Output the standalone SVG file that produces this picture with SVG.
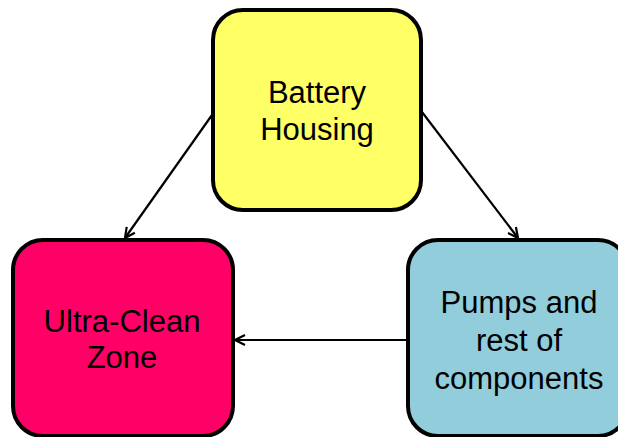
<svg xmlns="http://www.w3.org/2000/svg" width="618" height="437" viewBox="0 0 618 437">
<style>
.box{stroke:#000;stroke-width:4}
.t{font-family:"Liberation Sans",Arial,sans-serif;font-size:31px;fill:#000;text-anchor:middle}
.c{stroke:#000;stroke-width:2.2;fill:none;marker-end:url(#ah)}
</style>
<defs>
<marker id="ah" viewBox="0 0 12 12" refX="11" refY="6" markerWidth="12" markerHeight="12" markerUnits="userSpaceOnUse" orient="auto">
<path d="M1,1 L11,6 L1,11" fill="none" stroke="#000" stroke-width="2.2"/>
</marker>
</defs>
<rect width="618" height="437" fill="#fff"/>
<g id="connectors">
<line class="c" x1="212" y1="115" x2="125" y2="238"/>
<line class="c" x1="422" y1="112" x2="518" y2="238"/>
<line class="c" x1="407" y1="340" x2="235" y2="340"/>
</g>
<g id="battery">
<rect class="box" x="213" y="10" width="208" height="200" rx="30" fill="#FFFF66"/>
<text class="t" x="317" y="103">Battery</text>
<text class="t" x="317" y="140">Housing</text>
</g>
<g id="ultraclean">
<rect class="box" x="13" y="240" width="220" height="196" rx="30" fill="#FF0066"/>
<text class="t" x="122" y="332">Ultra-Clean</text>
<text class="t" x="122" y="368">Zone</text>
</g>
<g id="pumps">
<rect class="box" x="408" y="240" width="220" height="196" rx="30" fill="#92CDDC"/>
<text class="t" x="519" y="313">Pumps and</text>
<text class="t" x="519" y="351">rest of</text>
<text class="t" x="519" y="389">components</text>
</g>
</svg>
